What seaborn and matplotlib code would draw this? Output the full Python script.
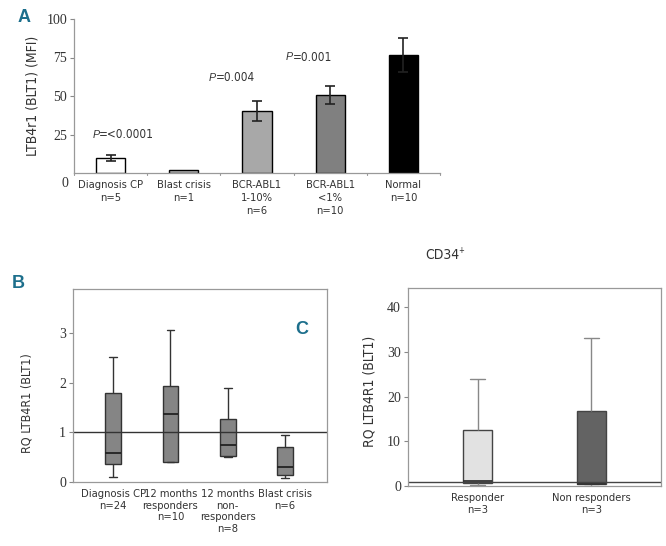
import numpy as np
import pandas as pd
import matplotlib
matplotlib.use("Agg")
import matplotlib.pyplot as plt
from matplotlib import font_manager as fm
from matplotlib import transforms as mtrans
import seaborn as sns

# ---------------- data ----------------
# Panel A
a_categories = ["Diagnosis CP\nn=5", "Blast crisis\nn=1", "BCR-ABL1\n1-10%\nn=6",
                "BCR-ABL1\n<1%\nn=10", "Normal\nn=10"]
a_values = [9.5, 1.7, 40.3, 50.6, 76.6]
a_errors = [2.0, 0.0, 6.5, 6.1, 11.3]
a_colors = ["#ffffff", "#b4b4b4", "#a8a8a8", "#808080", "#000000"]
a_pvalues = ["=<0.0001", "=0.004", "=0.001"]
a_p_x = [-0.25, 1.34, 2.39]
a_p_y = [24.7, 61.7, 75.3]

# Panel B: five-number summaries (whisker low, Q1, median, Q3, whisker high)
b_categories = ["Diagnosis CP\nn=24", "12 months\nresponders\nn=10",
                "12 months\nnon-\nresponders\nn=8", "Blast crisis\nn=6"]
b_stats = [
    [0.10, 0.36, 0.58, 1.79, 2.51],
    [0.40, 0.41, 1.37, 1.92, 3.06],
    [0.51, 0.52, 0.74, 1.27, 1.88],
    [0.09, 0.15, 0.31, 0.70, 0.95],
]

# Panel C
c_categories = ["Responder\nn=3", "Non responders\nn=3"]
c_stats = [
    [0.2, 0.75, 1.2, 12.5, 23.9],
    [0.1, 0.40, 0.5, 16.8, 33.2],
]
c_colors = ["#e2e2e2", "#636363"]

# ---------------- style ----------------
sns.set_theme(style="white")
plt.rcParams["font.family"] = ["Liberation Sans", "DejaVu Sans"]


def find_condensed():
    best = None
    for f in fm.fontManager.ttflist:
        nm = f.name.lower()
        st = str(f.stretch).lower()
        if f.style != "normal":
            continue
        if f.weight not in (400, "normal", "regular", "book"):
            continue
        score = None
        if "narrow" in nm and "liberation" in nm:
            score = 0
        elif st == "condensed" or "condensed" in nm:
            score = 1
        elif st == "semi-condensed":
            score = 2
        if score is not None and (best is None or score < best[0]):
            best = (score, f)
    return best[1] if best else None


cond = find_condensed()
cond_it = None
if cond is not None:
    for f in fm.fontManager.ttflist:
        if (f.name == cond.name and f.stretch == cond.stretch and f.style == "italic"
                and f.weight in (400, "normal", "regular", "book")):
            cond_it = f
            break


def fp(size, italic=False):
    if italic:
        if cond_it is not None:
            return fm.FontProperties(fname=cond_it.fname, size=size)
        return fm.FontProperties(family=["Liberation Sans", "DejaVu Sans"], style="italic",
                                 size=size * 0.9)
    if cond is not None:
        return fm.FontProperties(fname=cond.fname, size=size)
    return fm.FontProperties(family=["Liberation Sans", "DejaVu Sans"], size=size * 0.9)


txt = "#333333"
teal = "#1d6f8c"
catfs = 8
numfp = fm.FontProperties(family=["Liberation Serif", "DejaVu Serif"], size=10)

fig = plt.figure(figsize=(6.66, 5.46), dpi=100)


def style_axis(ax, labels, ls):
    ax.tick_params(axis="y", length=3, width=0.8, color="#888888", labelcolor=txt, left=True, pad=2)
    for lab in ax.get_yticklabels():
        lab.set_fontproperties(numfp)
    ax.tick_params(axis="x", length=0, pad=5)
    ax.set_xticks(range(len(labels)))
    ax.set_xticklabels(labels, color=txt, linespacing=ls, fontproperties=fp(catfs))


# ---------------- Panel A ----------------
axA = fig.add_axes([74 / 666, 1 - 173 / 546, 366 / 666, 154 / 546])
dfA = pd.DataFrame({"cat": a_categories, "val": a_values})
sns.barplot(data=dfA, x="cat", y="val", hue="cat", palette=a_colors, legend=False,
            width=0.4, edgecolor="black", linewidth=1.0, errorbar=None, ax=axA)
xs = np.arange(len(a_categories))
mask = np.array(a_errors) > 0
axA.errorbar(xs[mask], np.array(a_values)[mask], yerr=np.array(a_errors)[mask],
             fmt="none", ecolor="#222222", elinewidth=1.2, capsize=3.5, capthick=1.2)
axA.set_xlim(-0.5, 4.5)
axA.set_ylim(0, 100)
axA.set_yticks([25, 50, 75, 100])
axA.set_yticklabels(["25", "50", "75", "100"])
style_axis(axA, a_categories, 1.35)
for b in np.arange(-0.5, 5, 1.0):
    axA.plot([b, b], [0, -1.5], color="#999999", lw=0.8, clip_on=False)
axA.text(-0.62, -7, "0", ha="center", va="center", color=txt, fontproperties=numfp)
for s in ["top", "right"]:
    axA.spines[s].set_visible(False)
for s in ["left", "bottom"]:
    axA.spines[s].set_color("#999999")
    axA.spines[s].set_linewidth(0.9)
axA.set_xlabel("")
axA.set_ylabel("LTB4r1 (BLT1) (MFI)", color=txt, labelpad=5, fontproperties=fp(10))
for x, y, p in zip(a_p_x, a_p_y, a_pvalues):
    axA.text(x, y, "P", ha="left", va="center", color=txt, fontproperties=fp(8.5, italic=True))
    tr = mtrans.offset_copy(axA.transData, fig=fig, x=5.0, y=0, units="points")
    axA.text(x, y, p, ha="left", va="center", color=txt, transform=tr, fontproperties=fp(8.5))
fig.text(18 / 666, 1 - 17 / 546, "A", fontsize=13, fontweight="bold", color=teal, va="center")

# ---------------- Panel B ----------------
axB = fig.add_axes([73 / 666, 1 - 482 / 546, 254 / 666, 193 / 546])
rowsB = [(c, v) for c, st in zip(b_categories, b_stats) for v in st]
dfB = pd.DataFrame(rowsB, columns=["cat", "val"])
sns.boxplot(data=dfB, x="cat", y="val", color="#858585", width=0.27, whis=(0, 100),
            linewidth=1.0, showfliers=False, ax=axB,
            boxprops=dict(edgecolor="#333333"),
            medianprops=dict(color="#222222", linewidth=1.3),
            whiskerprops=dict(color="#333333"), capprops=dict(color="#333333"))
axB.axhline(1, color="#333333", lw=1.0)
axB.set_xlim(-0.7, 3.73)
axB.set_ylim(0, 3.88)
axB.set_yticks([0, 1, 2, 3])
style_axis(axB, b_categories, 1.2)
for s in axB.spines.values():
    s.set_color("#999999")
    s.set_linewidth(0.9)
axB.set_xlabel("")
axB.set_ylabel("RQ LTB4R1 (BLT1)", color=txt, fontproperties=fp(9))
axB.yaxis.set_label_coords(-0.157, 0.41)
fig.text(12 / 666, 1 - 283 / 546, "B", fontsize=13, fontweight="bold", color=teal, va="center")
fig.text(302 / 666, 1 - 330 / 546, "C", fontsize=13, fontweight="bold", color=teal, va="center", ha="center")

# ---------------- Panel C ----------------
axC = fig.add_axes([408 / 666, 1 - 486 / 546, 253 / 666, 198.3 / 546])
rowsC = [(c, v) for c, st in zip(c_categories, c_stats) for v in st]
dfC = pd.DataFrame(rowsC, columns=["cat", "val"])
sns.boxplot(data=dfC, x="cat", y="val", hue="cat", palette=c_colors, legend=False,
            width=0.25, whis=(0, 100), linewidth=1.0, showfliers=False, ax=axC,
            boxprops=dict(edgecolor="#444444"),
            medianprops=dict(color="#333333", linewidth=1.3),
            whiskerprops=dict(color="#888888"), capprops=dict(color="#888888"))
axC.axhline(1, color="#444444", lw=1.0)
axC.set_xlim(-0.61, 1.61)
axC.set_ylim(0, 44.4)
axC.set_yticks([0, 10, 20, 30, 40])
style_axis(axC, c_categories, 1.3)
for s in axC.spines.values():
    s.set_color("#999999")
    s.set_linewidth(0.9)
axC.set_xlabel("")
axC.set_ylabel("RQ LTB4R1 (BLT1)", color=txt, fontproperties=fp(10))
axC.yaxis.set_label_coords(-0.126, 0.479)
fig.text(425 / 666, 1 - 255 / 546, "CD34", color=txt, va="center", ha="left", fontproperties=fp(10))
fig.text(458 / 666, 1 - 251 / 546, "+", color=txt, va="center", ha="left", fontproperties=fp(5.5))

fig.savefig("out.png", dpi=100)
